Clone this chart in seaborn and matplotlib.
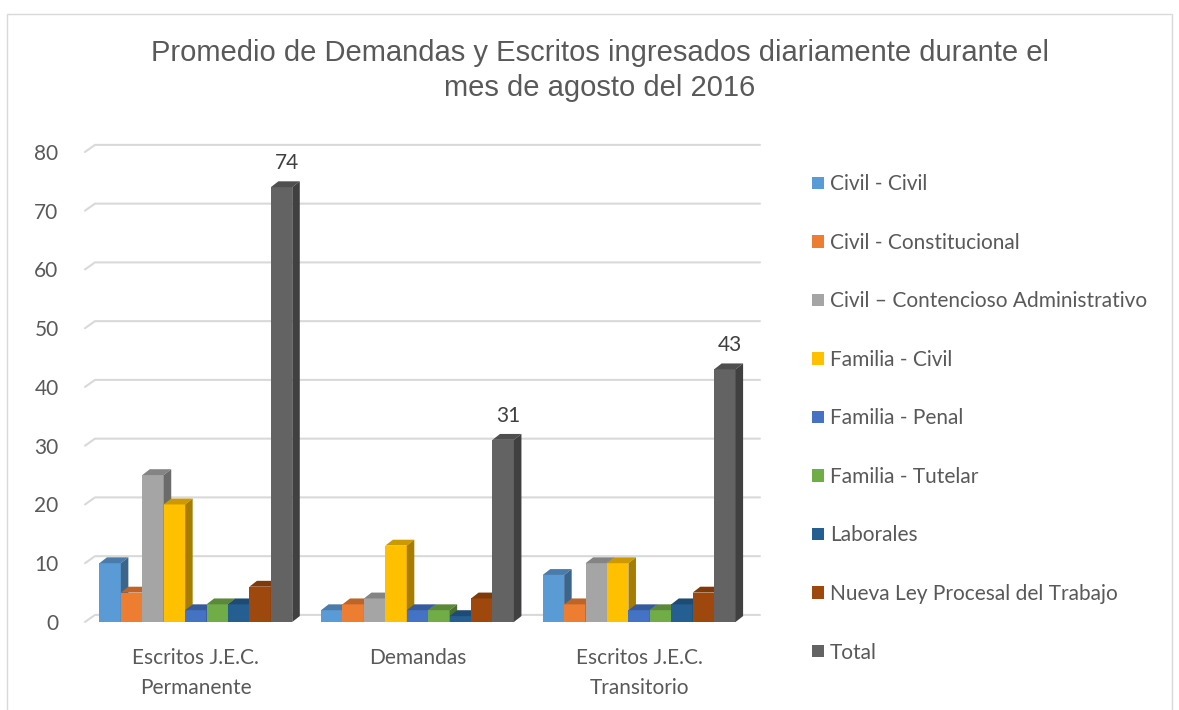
import numpy as np
import pandas as pd
import seaborn as sns
import matplotlib.pyplot as plt
import matplotlib.colors as mcolors
from matplotlib.patches import Polygon, Rectangle, Patch

categorias = ["Escritos J.E.C.\nPermanente", "Demandas", "Escritos J.E.C.\nTransitorio"]
series = ["Civil - Civil", "Civil - Constitucional", "Civil \u2013 Contencioso Administrativo",
          "Familia - Civil", "Familia - Penal", "Familia - Tutelar", "Laborales",
          "Nueva Ley Procesal del Trabajo", "Total"]
permanente = [10, 5, 25, 20, 2, 3, 3, 6, 74]
demandas = [2, 3, 4, 13, 2, 2, 1, 4, 31]
transitorio = [8, 3, 10, 10, 2, 2, 3, 5, 43]
colores = ["#5B9BD5", "#ED7D31", "#A5A5A5", "#FFC000", "#4472C4",
           "#70AD47", "#255E91", "#9E480E", "#636363"]

rows = []
for cat, vals in zip(categorias, [permanente, demandas, transitorio]):
    for s, v in zip(series, vals):
        rows.append({"categoria": cat, "serie": s, "valor": v})
df = pd.DataFrame(rows)

sns.set_style("white")
plt.rcParams['font.family'] = ['Lato', 'DejaVu Sans']

fig = plt.figure(figsize=(11.79, 7.10), dpi=100)
ax = fig.add_axes([0.0721, 0.124, 0.564, 0.662])

sns.barplot(data=df, x="categoria", y="valor", hue="serie", palette=colores,
            width=0.87, saturation=1, ax=ax, legend=False, edgecolor="none")

ax.set_ylim(0, 80)
ax.set_xlim(-0.5, 2.5)
ax.set_yticks(range(0, 81, 10))
for sp in ax.spines.values():
    sp.set_visible(False)
ax.set_xlabel("")
ax.set_ylabel("")
ax.tick_params(axis="y", labelsize=15, colors="#595959", length=0, pad=19)
ax.tick_params(axis="x", labelsize=15, colors="#595959", length=0, pad=19)
for t in ax.get_xticklabels():
    t.set_linespacing(1.6)

# back-wall gridlines with the slanted side-wall part
gdx, gdy = 0.045, 1.2
for v in range(0, 81, 10):
    ax.plot([-0.5, -0.5 + gdx, 2.5 + gdx], [v, v + gdy, v + gdy], color="#D9D9D9",
            linewidth=1.5, clip_on=False, zorder=1)

# pseudo 3D faces from each bar's geometry
def shade(c, f):
    r, g, b = mcolors.to_rgb(c)
    return (r * f, g * f, b * f)

bars = sorted([p for p in ax.patches if p.get_height() > 0], key=lambda p: p.get_x())
for i, p in enumerate(bars):
    z = 3 + 0.01 * i
    p.set_zorder(z)
    x, y, w, h = p.get_x(), p.get_y(), p.get_width(), p.get_height()
    col = p.get_facecolor()
    dx, dy = 0.034, 1.0
    top = Polygon([(x, y + h), (x + w, y + h), (x + w + dx, y + h + dy), (x + dx, y + h + dy)],
                  closed=True, facecolor=shade(col, 0.8), edgecolor="none", zorder=z)
    side = Polygon([(x + w, y), (x + w + dx, y + dy), (x + w + dx, y + h + dy), (x + w, y + h)],
                   closed=True, facecolor=shade(col, 0.65), edgecolor="none", zorder=z)
    ax.add_patch(top)
    ax.add_patch(side)

# value labels on Total bars
total_bars = ax.containers[-1]
for p, v in zip(total_bars, [permanente[-1], demandas[-1], transitorio[-1]]):
    ax.text(p.get_x() + p.get_width() * 0.75, v + 2.4, str(v), ha="center", va="bottom",
            fontsize=15, color="#404040", zorder=5)

fig.suptitle("Promedio de Demandas y Escritos ingresados diariamente durante el\nmes de agosto del 2016",
             x=0.509, y=0.945, fontsize=21, color="#595959", linespacing=1.3,
             family=['Liberation Sans', 'DejaVu Sans'])

handles = [Patch(facecolor=c, edgecolor="none") for c in colores]
fig.legend(handles, series, loc="upper left", bbox_to_anchor=(0.673, 0.781), frameon=False,
           fontsize=15, labelspacing=1.85, handlelength=0.55, handleheight=0.55,
           handletextpad=0.3, labelcolor="#595959")

fig.patches.append(Rectangle((0.006, -0.02), 0.988, 1.0, transform=fig.transFigure,
                             fill=False, edgecolor="#D9D9D9", linewidth=1))

fig.savefig("out.png", dpi=100)
